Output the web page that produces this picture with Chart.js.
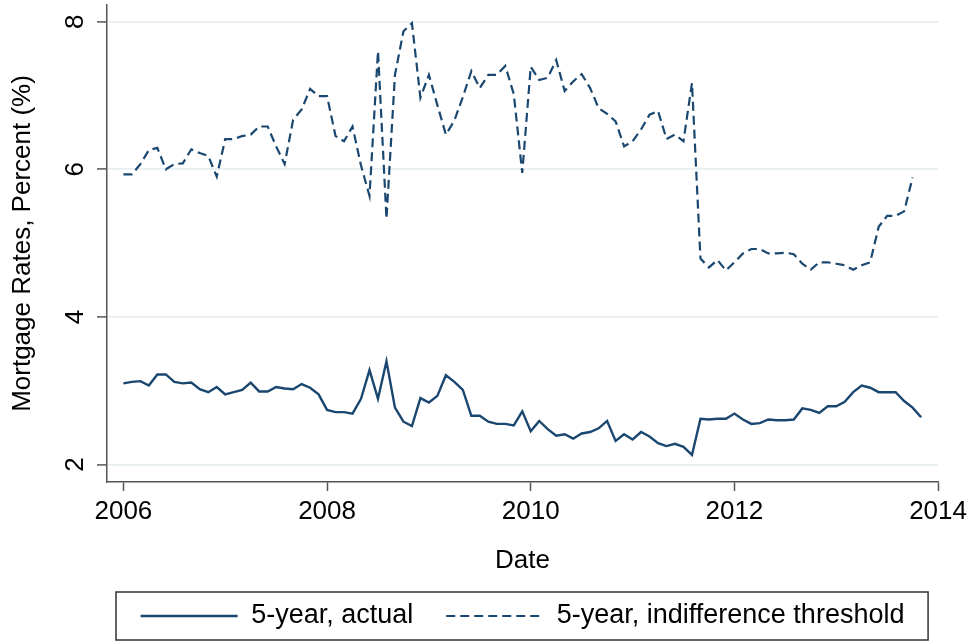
<!DOCTYPE html>
<html>
<head>
<meta charset="utf-8">
<script src="https://cdn.jsdelivr.net/npm/chart.js@4.4.1/dist/chart.umd.min.js"></script>
<style>
  html, body { margin: 0; padding: 0; background: #fff; }
</style>
</head>
<body>
<canvas id="rateChart" width="972" height="641"></canvas>
<script>
// monthly observations, first one is Jan 2006
const firstYear = 2006;

const actual = [
    3.10, 3.12, 3.13, 3.07, 3.22, 3.22, 3.12, 3.10, 3.11, 3.02, 2.98, 3.05,
    2.95, 2.98, 3.01, 3.11, 2.99, 2.99, 3.05, 3.03, 3.02, 3.09, 3.04, 2.95,
    2.74, 2.71, 2.71, 2.69, 2.89, 3.28, 2.89, 3.40, 2.77, 2.58, 2.52, 2.90,
    2.84, 2.93, 3.21, 3.12, 3.01, 2.66, 2.66, 2.58, 2.55, 2.55, 2.53, 2.72,
    2.45, 2.59, 2.48, 2.39, 2.41, 2.35, 2.42, 2.44, 2.49, 2.59, 2.32, 2.41,
    2.34, 2.44, 2.38, 2.29, 2.25, 2.28, 2.24, 2.13, 2.62, 2.61, 2.62, 2.62,
    2.69, 2.61, 2.55, 2.56, 2.61, 2.60, 2.60, 2.61, 2.76, 2.74, 2.70, 2.79,
    2.79, 2.85, 2.98, 3.07, 3.04, 2.98, 2.98, 2.98, 2.86, 2.77, 2.64
];

const threshold = [
    5.93, 5.93, 6.07, 6.26, 6.29, 6.00, 6.07, 6.08, 6.27, 6.22, 6.18, 5.90,
    6.41, 6.41, 6.45, 6.47, 6.58, 6.58, 6.31, 6.07, 6.67, 6.81, 7.09, 6.99,
    6.99, 6.45, 6.38, 6.58, 6.05, 5.64, 7.60, 5.33, 7.28, 7.87, 7.98, 6.97,
    7.28, 6.87, 6.47, 6.66, 6.98, 7.33, 7.10, 7.28, 7.28, 7.40, 7.02, 5.95,
    7.39, 7.21, 7.24, 7.48, 7.06, 7.19, 7.29, 7.10, 6.83, 6.75, 6.65, 6.31,
    6.38, 6.54, 6.74, 6.79, 6.41, 6.47, 6.38, 7.17, 4.79, 4.67, 4.77, 4.63,
    4.74, 4.86, 4.92, 4.92, 4.86, 4.86, 4.87, 4.85, 4.72, 4.64, 4.74, 4.74,
    4.72, 4.70, 4.64, 4.70, 4.74, 5.22, 5.37, 5.37, 5.43, 5.89
];

const seriesNames = ["5-year, actual", "5-year, indifference threshold"];
const xTicks = [2006, 2008, 2010, 2012, 2014];
const yTicks = [2, 4, 6, 8];

const navy = "#1a476f";
const axisGray = "#555";
const fontFamily = "'Liberation Sans', Arial, sans-serif";
const legendPad = 33;
const legendFont = 27;

function monthly(values) {
    return values.map((v, i) => ({ x: firstYear + i / 12, y: v }));
}

// Stata style: y tick labels turned 90 degrees
const yLabelPlugin = {
    id: "yLabels",
    afterDraw(chart) {
        const ctx = chart.ctx;
        const ys = chart.scales.y;
        ctx.save();
        ctx.font = "26px " + fontFamily;
        ctx.fillStyle = "#000";
        ctx.textAlign = "center";
        ctx.textBaseline = "middle";
        ys.ticks.forEach(t => {
            ctx.save();
            ctx.translate(chart.chartArea.left - 31.5, ys.getPixelForValue(t.value));
            ctx.rotate(-Math.PI / 2);
            ctx.fillText(String(t.value), 0, 0);
            ctx.restore();
        });
        ctx.restore();
    }
};

// frame round the legend
const legendBoxPlugin = {
    id: "legendBox",
    afterDraw(chart) {
        const a = chart.chartArea;
        const lg = chart.legend;
        const cy = lg.top + legendPad + legendFont / 2;
        const ctx = chart.ctx;
        ctx.save();
        ctx.strokeStyle = "#333";
        ctx.lineWidth = 1.5;
        ctx.strokeRect(a.left + 9, cy - 24, (a.right - 10) - (a.left + 9), 48);
        ctx.restore();
    }
};

new Chart(document.getElementById("rateChart"), {
    type: "line",
    data: {
        datasets: [{
            label: seriesNames[0],
            data: monthly(actual),
            borderColor: navy,
            backgroundColor: navy,
            borderWidth: 2.4,
            pointRadius: 0,
            tension: 0
        }, {
            label: seriesNames[1],
            data: monthly(threshold),
            borderColor: navy,
            backgroundColor: navy,
            borderWidth: 2.2,
            borderDash: [9, 5],
            pointRadius: 0,
            tension: 0
        }]
    },
    options: {
        responsive: false,
        animation: false,
        layout: { padding: { top: 5, right: 30, bottom: 1.5, left: 0 } },
        plugins: {
            legend: {
                position: "bottom",
                fullSize: false,
                labels: {
                    usePointStyle: true,
                    pointStyle: "line",
                    pointStyleWidth: 97,
                    padding: legendPad,
                    color: "#000",
                    font: { family: fontFamily, size: legendFont },
                    generateLabels: chart => {
                        const items = Chart.defaults.plugins.legend.labels.generateLabels(chart);
                        items.forEach(it => {
                            it.lineDash = chart.data.datasets[it.datasetIndex].borderDash || [];
                            it.lineWidth = chart.data.datasets[it.datasetIndex].borderWidth;
                        });
                        return items;
                    }
                }
            },
            tooltip: { enabled: false }
        },
        scales: {
            x: {
                type: "linear",
                min: 2005.839,
                max: 2014,
                afterBuildTicks: s => { s.ticks = xTicks.map(v => ({ value: v })); },
                afterFit: s => { s.height = 87.5; },
                grid: { drawOnChartArea: false, tickLength: 9, tickColor: axisGray, tickWidth: 1.5 },
                border: { color: axisGray, width: 1.5 },
                ticks: {
                    callback: v => String(v),
                    padding: 5,
                    color: "#000",
                    maxRotation: 0,
                    autoSkip: false,
                    font: { family: fontFamily, size: 26 }
                },
                title: {
                    display: true,
                    text: "Date",
                    color: "#000",
                    font: { family: fontFamily, size: 26 },
                    padding: { top: 0, bottom: -7.1 }
                }
            },
            y: {
                type: "linear",
                min: 1.763,
                max: 8.226,
                afterBuildTicks: s => { s.ticks = yTicks.map(v => ({ value: v })); },
                afterFit: s => { s.width = 107; },
                grid: { color: "#e8eff2", lineWidth: 1.8, tickLength: 10, tickColor: axisGray, tickWidth: 1.5 },
                border: { color: axisGray, width: 1.5 },
                ticks: { display: false },
                title: {
                    display: true,
                    text: "Mortgage Rates, Percent (%)",
                    color: "#000",
                    font: { family: fontFamily, size: 26 },
                    padding: { top: 7.4, bottom: 0 }
                }
            }
        }
    },
    plugins: [yLabelPlugin, legendBoxPlugin]
});
</script>
</body>
</html>
